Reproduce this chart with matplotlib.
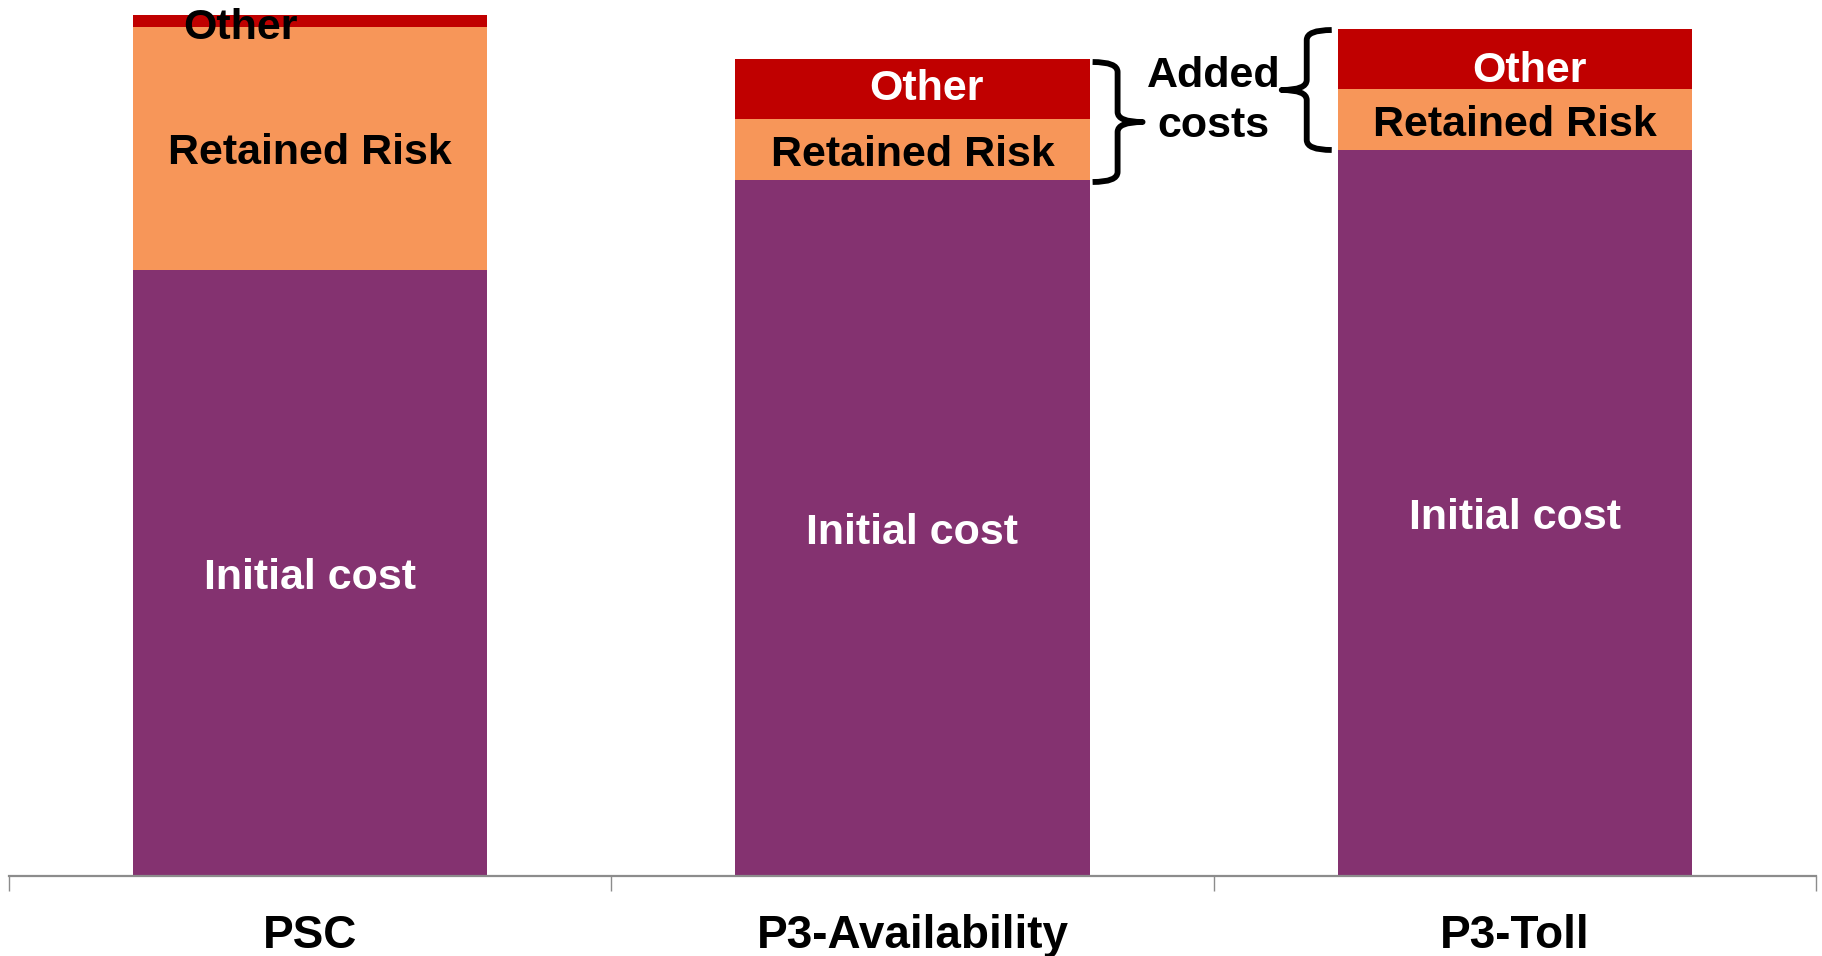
import matplotlib
matplotlib.use("Agg")
import matplotlib.pyplot as plt
from matplotlib.path import Path
from matplotlib.patches import PathPatch
import numpy as np

# cost build-up per delivery option
categories = ["PSC", "P3-Availability", "P3-Toll"]
initial_cost = [606, 696, 726]
retained_risk = [243, 61, 61]
other_cost = [12, 60, 60]

PURPLE = "#843270"
ORANGE = "#F79659"
RED = "#C00000"

plt.rcParams["font.family"] = ["Liberation Sans", "DejaVu Sans"]
plt.rcParams["font.weight"] = "bold"


def brace(ax, x0, y0, y1, width, pointing):
    """Curly brace from y0 to y1 whose tip points right (+1) or left (-1)."""
    w = width * pointing
    ym = (y0 + y1) / 2.0
    r = 10.0
    verts = [
        (x0, y1),
        (x0 + w * 0.5, y1), (x0 + w * 0.5, y1 - r),
        (x0 + w * 0.5, ym + r),
        (x0 + w * 0.5, ym), (x0 + w, ym),
        (x0 + w * 0.5, ym), (x0 + w * 0.5, ym - r),
        (x0 + w * 0.5, y0 + r),
        (x0 + w * 0.5, y0), (x0, y0),
    ]
    codes = [Path.MOVETO,
             Path.CURVE3, Path.CURVE3,
             Path.LINETO,
             Path.CURVE3, Path.CURVE3,
             Path.CURVE3, Path.CURVE3,
             Path.LINETO,
             Path.CURVE3, Path.CURVE3]
    ax.add_patch(PathPatch(Path(verts, codes), facecolor="none",
                           edgecolor="black", lw=4.2, capstyle="butt",
                           joinstyle="round"))


fig = plt.figure(figsize=(18.22, 9.56), dpi=100)
ax = fig.add_axes([9 / 1822, 80 / 956, 1807 / 1822, 876 / 956])

x = np.arange(len(categories))
bw = 0.588
initial = np.array(initial_cost)
risk = np.array(retained_risk)
other = np.array(other_cost)

ax.bar(x, initial, bw, color=PURPLE)
ax.bar(x, risk, bw, bottom=initial, color=ORANGE)
ax.bar(x, other, bw, bottom=initial + risk, color=RED)

fs = 31
dy = -5  # nudge labels so the caps sit centred in each slice
for i in range(len(categories)):
    ax.text(x[i], initial[i] / 2 + dy, "Initial cost", ha="center",
            va="center", color="white", fontsize=fs, fontweight="bold")
    ax.text(x[i], initial[i] + risk[i] / 2 + dy, "Retained Risk",
            ha="center", va="center", color="black", fontsize=fs,
            fontweight="bold")

# the PSC "Other" slice is too thin, so its label sits on top of it
ax.text(x[0] - 0.115, initial[0] + risk[0] + other[0] / 2 - 7, "Other",
        ha="center", va="center", color="black", fontsize=fs,
        fontweight="bold")
ax.text(x[1] + 0.024, initial[1] + risk[1] + other[1] / 2, "Other",
        ha="center", va="center", color="white", fontsize=fs,
        fontweight="bold")
ax.text(x[2] + 0.024, initial[2] + risk[2] + other[2] / 2 - 12, "Other",
        ha="center", va="center", color="white", fontsize=fs,
        fontweight="bold")

# braces around the added costs of the P3 options
top1 = initial[1] + risk[1] + other[1]
brace(ax, x[1] + bw / 2 + 0.005, initial[1] - 2, top1 - 3, 0.083, 1)
top2 = initial[2] + risk[2] + other[2]
brace(ax, x[2] - bw / 2 - 0.01, initial[2], top2 - 1, 0.083, -1)
ax.text(1.5, 775, "Added\ncosts", ha="center", va="center", color="black",
        fontsize=fs, fontweight="bold", linespacing=1.32)

ax.set_xlim(-0.5, len(categories) - 0.5)
ax.set_ylim(0, 876)

for side in ("top", "right", "left"):
    ax.spines[side].set_visible(False)
ax.spines["bottom"].set_color("#8c8c8c")
ax.spines["bottom"].set_linewidth(1.6)
ax.set_yticks([])

ax.set_xticks(x)
ax.set_xticklabels(categories, fontsize=33, fontweight="bold")
ax.tick_params(axis="x", which="major", length=0, pad=27)
ax.set_xticks(np.arange(-0.5, len(categories)), minor=True)
ax.tick_params(axis="x", which="minor", length=11, width=1.0,
               color="#8c8c8c", direction="out")

fig.savefig("out.png", dpi=100)
